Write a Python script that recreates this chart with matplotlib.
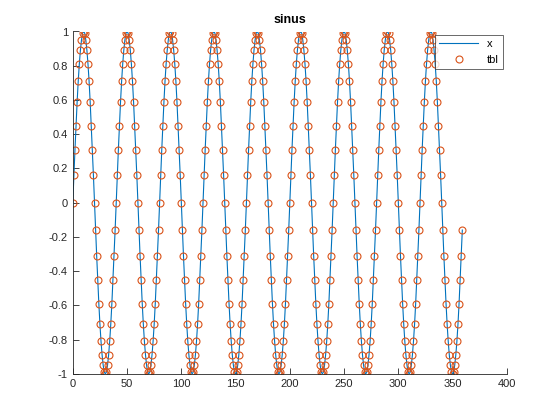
import matplotlib
matplotlib.use("Agg")
import matplotlib.pyplot as plt
import numpy as np

# one 40-sample period (rises from 0, peaks, falls to -1, back)
cycle = [0, 0.16, 0.31, 0.45, 0.59, 0.71, 0.81, 0.89, 0.95, 0.99,
         1, 0.99, 0.95, 0.89, 0.81, 0.71, 0.59, 0.45, 0.31, 0.16,
         0, -0.16, -0.31, -0.45, -0.59, -0.71, -0.81, -0.89, -0.95, -0.99,
         -1, -0.99, -0.95, -0.89, -0.81, -0.71, -0.59, -0.45, -0.31, -0.16]
n_cycles = 9
sample_idx = np.arange(len(cycle) * n_cycles)   # 0 .. 359
values = np.array(cycle * n_cycles)

xticks = [0, 50, 100, 150, 200, 250, 300, 350, 400]
yticks = [-1, -0.8, -0.6, -0.4, -0.2, 0, 0.2, 0.4, 0.6, 0.8, 1]

plt.rcParams['font.family'] = ['Liberation Sans', 'DejaVu Sans']

fig = plt.figure(figsize=(5.6, 4.2), dpi=100)
ax = fig.add_axes([0.13, 0.11, 0.775, 0.815])

ax.plot(sample_idx, values, color='#0072BD', lw=0.8, label='x')
ax.plot(sample_idx, values, 'o', mfc='none', mec='#D95319', ms=5, mew=0.8, label='tbl')

ax.set_xlim(0, 400)
ax.set_ylim(-1, 1)
ax.set_xticks(xticks)
ax.set_yticks(yticks)
ax.set_yticklabels([f"{t:g}" for t in yticks])
ax.tick_params(direction='in', labelsize=8, length=4, width=0.6, colors='#262626')
for s in ['top', 'right']:
    ax.spines[s].set_visible(False)
for s in ['left', 'bottom']:
    ax.spines[s].set_linewidth(0.6)
    ax.spines[s].set_color('#262626')

ax.set_title('sinus', fontsize=9, fontweight='bold')

leg = ax.legend(loc='upper right', fontsize=8, frameon=True, fancybox=False,
                edgecolor='#262626', handlelength=3.5, borderaxespad=0.3)
leg.get_frame().set_linewidth(0.6)

plt.savefig("out.png", dpi=100)
